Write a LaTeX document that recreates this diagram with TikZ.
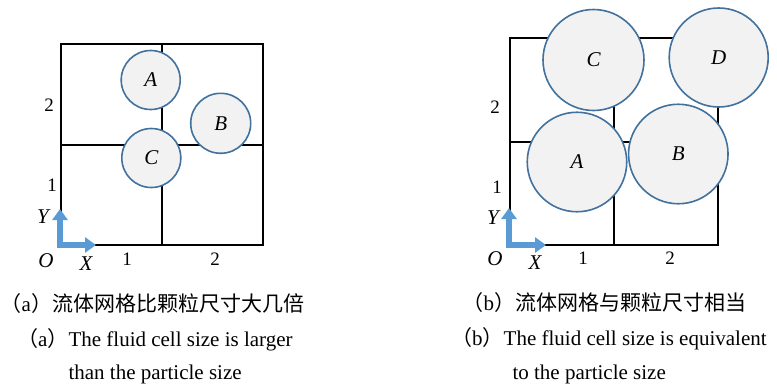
\documentclass[tikz,border=0pt]{standalone}
\usepackage{fontspec}
\setmainfont{Liberation Serif}
\newfontfamily\cjk{Noto Sans CJK SC}
\usetikzlibrary{arrows.meta}
\definecolor{rimblue}{HTML}{41719C}
\definecolor{axisblue}{HTML}{5B9BD5}
\definecolor{partgray}{HTML}{F2F2F2}
\tikzset{
  cell/.style={line width=1.8pt, black},
  part/.style={circle, draw=rimblue, fill=partgray, line width=1.6pt, inner sep=0pt,
    minimum size=#1, font=\fontsize{21}{21}\selectfont\itshape},
  part/.default=59pt,
  axis/.style={line width=6pt, axisblue, line join=miter,
    {Triangle[length=11pt,width=15pt]}-{Triangle[length=11pt,width=15pt]}},
  tick/.style={font=\fontsize{19}{19}\selectfont, inner sep=0pt},
  axlbl/.style={font=\fontsize{21}{21}\selectfont\itshape, inner sep=0pt},
  capzh/.style={anchor=base west, inner sep=0pt, font=\fontsize{21}{21}\selectfont},
  capen/.style={anchor=base west, inner sep=0pt, font=\fontsize{21}{21}\selectfont},
}
\newcommand{\lp}{{\cjk （}}
\newcommand{\rp}{{\cjk ）}}

\begin{document}
\begin{tikzpicture}[x=1pt, y=-1pt]
\useasboundingbox (0,0) rectangle (777,384);

% ── (a) grid and particles ──────────────────────────────────
\draw[cell] (61,44) rectangle (263,245);
\draw[cell] (162,44) -- (162,245);
\draw[cell] (61,145) -- (263,145);

\node[part] (pA) at (150.7,80) {A};
\node[part=60pt] (pB) at (220.7,123.3) {B};
\node[part=59pt] (pC) at (151.3,158) {C};

\coordinate (oa) at (60,245);
\coordinate (ya) at (60,209);
\coordinate (xa) at (96,245);
\draw[axis] (ya) -- (oa) -- (xa);
\foreach \p/\t in {{49,105}/2, {52,185}/1, {127,259}/1, {215,259}/2}
  \node[tick] at (\p) {\t};
\foreach \p/\t in {{43,217}/Y, {46,261}/O, {86,264}/X}
  \node[axlbl] at (\p) {\t};

% ── (b) grid and particles ──────────────────────────────────
\draw[cell] (510,38) rectangle (718,245);
\draw[cell] (614,38) -- (614,245);
\draw[cell] (510,142) -- (718,142);

\node[part=101pt] (qC) at (593.5,60) {C};
\node[part=99pt] (qD) at (718.7,57.5) {D};
\node[part=99.5pt] (qA) at (577,162) {A};
\node[part=99.5pt] (qB) at (678.3,154) {B};

\coordinate (ob) at (509,245);
\coordinate (yb) at (509,208);
\coordinate (xb) at (546,245);
\draw[axis] (yb) -- (ob) -- (xb);
\foreach \p/\t in {{495,107}/2, {497,187}/1, {583,258}/1, {670,258}/2}
  \node[tick] at (\p) {\t};
\foreach \p/\t in {{493,218}/Y, {495,259}/O, {535,263}/X}
  \node[axlbl] at (\p) {\t};

% ── captions ────────────────────────────────────────────────
\node[capzh] (capa) at (0.5,311) {\lp a\rp{\cjk 流体网格比颗粒尺寸大几倍}};
\node[capen] (capa2) at (17,346) {\lp a\rp The fluid cell size is larger};
\node[capen] (capa3) at (68.3,379) {than the particle size};

\node[capzh] (capb) at (462.5,310) {\lp b\rp{\cjk 流体网格与颗粒尺寸相当}};
\node[capen] (capb2) at (451,345) {\lp b\rp The fluid cell size is equivalent};
\node[capen] (capb3) at (512.3,379) {to the particle size};

\end{tikzpicture}
\end{document}
